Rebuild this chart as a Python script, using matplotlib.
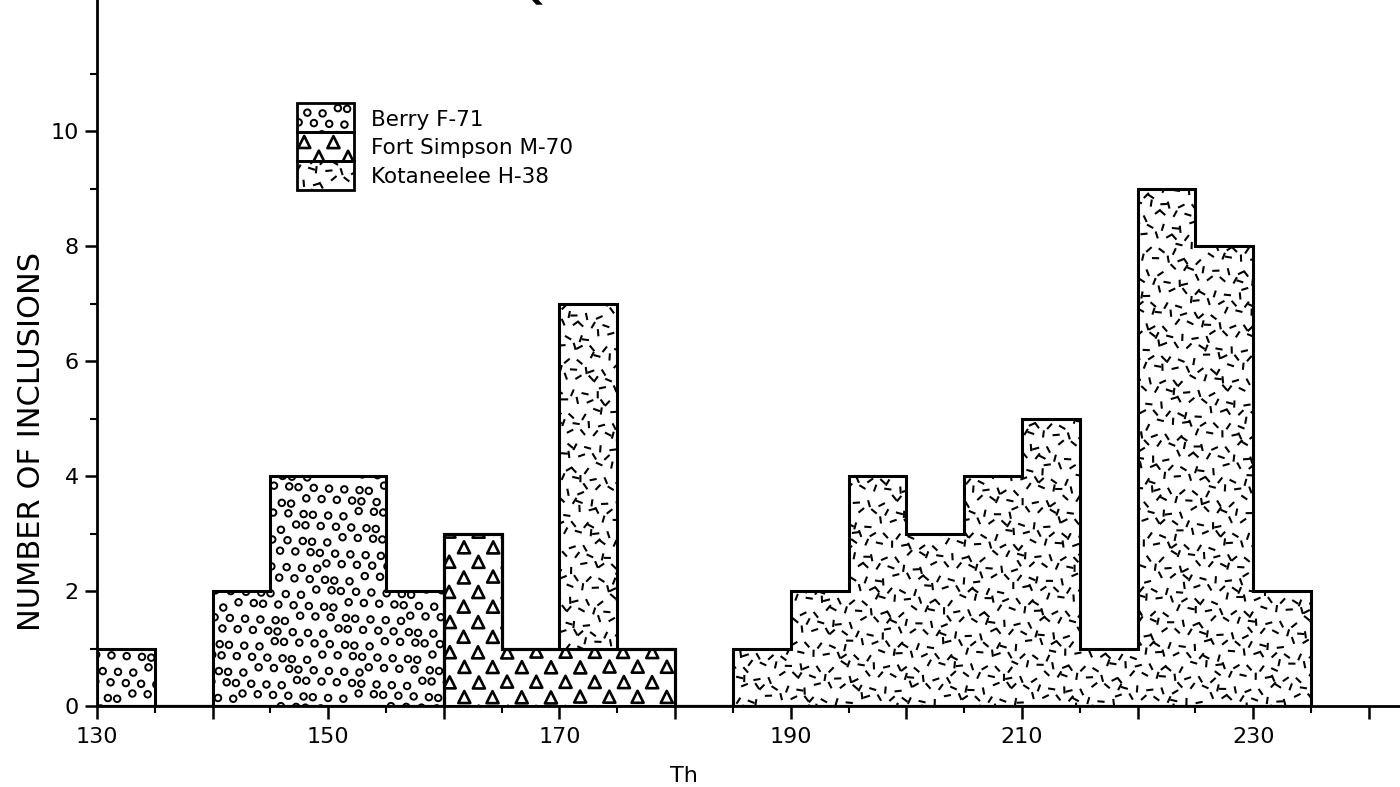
import numpy as np
import matplotlib
matplotlib.use('agg')
import matplotlib.pyplot as plt
from matplotlib.transforms import IdentityTransform
from matplotlib.collections import LineCollection
from matplotlib.patches import Rectangle

# bins of 5 degrees, 130..235
edges = np.arange(130, 240, 5)
berry = [1, 0, 2, 4, 4, 2, 0, 0, 0, 0, 0, 0, 0, 0, 0, 0, 0, 0, 0, 0, 0]
fort = [0, 0, 0, 0, 0, 0, 3, 1, 1, 1, 0, 0, 0, 0, 0, 0, 0, 0, 0, 0, 0]
kota = [0, 0, 0, 0, 0, 0, 0, 0, 6, 0, 0, 1, 2, 4, 3, 4, 5, 1, 9, 8, 2]
names = ['Berry F-71', 'Fort Simpson M-70', 'Kotaneelee H-38']
xticks_lab = [130, 150, 170, 190, 210, 230]

W, H = 1400, 787
fig = plt.figure(figsize=(W / 100, H / 100), dpi=100)
ax = fig.add_axes([97 / W, 81 / H, 1 - 97 / W, 706 / H])
ax.set_xlim(130, 242.7)
ax.set_ylim(0, 12.28)

ID = IdentityTransform()


def frac(a):
    return a - np.floor(a)


def texture(patch, kind, z=2):
    # fill a patch with a print-like texture, drawn in pixel space
    path = patch.get_path().transformed(patch.get_transform())
    ext = path.get_extents()
    if kind == 'circle':
        dx, dy, jit = 14, 13, 3.0
    elif kind == 'tri':
        dx, dy, jit = 29, 15, 0.5
    else:
        dx, dy, jit = 11, 11, 4.0
    j0, j1 = int(np.floor(ext.y0 / dy)) - 1, int(np.ceil(ext.y1 / dy)) + 1
    i0, i1 = int(np.floor(ext.x0 / dx)) - 1, int(np.ceil(ext.x1 / dx)) + 1
    jj, ii = np.meshgrid(np.arange(j0, j1 + 1), np.arange(i0, i1 + 1))
    jj, ii = jj.ravel(), ii.ravel()
    k = ii * 7919 + jj * 104729
    x = ii * dx + (jj % 2) * dx / 2 + (frac(k * 0.6180339) - 0.5) * 2 * jit
    y = jj * dy + (frac(k * 0.7548776) - 0.5) * 2 * jit
    keep = (x > ext.x0 - 8) & (x < ext.x1 + 8) & (y > ext.y0 - 8) & (y < ext.y1 + 8)
    x, y, k = x[keep], y[keep], k[keep]
    if kind == 'circle':
        art = ax.scatter(x, y, s=22, marker='o', facecolor='none', edgecolor='black',
                         linewidths=1.4, transform=ID, zorder=z)
    elif kind == 'tri':
        art = ax.scatter(x, y, s=75, marker='^', facecolor='none', edgecolor='black',
                         linewidths=1.9, transform=ID, zorder=z)
    else:
        ang = frac(k * 0.5698403) * np.pi
        L = 3.6
        segs = np.stack([np.column_stack([x - L * np.cos(ang), y - L * np.sin(ang)]),
                         np.column_stack([x + L * np.cos(ang), y + L * np.sin(ang)])], axis=1)
        art = LineCollection(segs, colors='black', linewidths=1.5, transform=ID, zorder=z)
        ax.add_collection(art)
    art.set_clip_path(patch)
    art.set_clip_on(True)


fort_a = np.array(fort)
series = [
    (np.array(berry), 0, 'circle'),
    (fort_a, 0, 'tri'),
    (fort_a + np.array(kota), fort_a, 'dash'),
]
for top, base, kind in series:
    face = ax.stairs(top, edges, baseline=base, fill=True, facecolor='white',
                     edgecolor='none', zorder=1)
    texture(face, kind)
    ax.stairs(top, edges, baseline=base, fill=True, facecolor='none',
              edgecolor='black', linewidth=2.2, zorder=3)

# legend boxes
for n, (name, kind) in enumerate(zip(names, ['circle', 'tri', 'dash'])):
    ytop = H - 103 - 29 * n
    r = Rectangle((297, ytop - 29), 57, 29, transform=ID, facecolor='white',
                  edgecolor='none', zorder=4)
    ax.add_patch(r)
    texture(r, kind, z=5)
    ax.add_patch(Rectangle((297, ytop - 29), 57, 29, transform=ID, facecolor='none',
                           edgecolor='black', linewidth=2, zorder=6))
    fig.text(371 / W, (H - 120 - 28.5 * n) / H, name, fontsize=15.5, va='center',
             ha='left', family='DejaVu Sans')

# axes styling
for s in ['top', 'right']:
    ax.spines[s].set_visible(False)
for s in ['left', 'bottom']:
    ax.spines[s].set_linewidth(2)
ax.set_xticks(np.arange(130, 245, 10))
ax.set_xticklabels([str(v) if v in xticks_lab else '' for v in range(130, 245, 10)])
ax.set_xticks(np.arange(135, 245, 10), minor=True)
ax.set_yticks(np.arange(0, 12, 2))
ax.set_yticks(np.arange(1, 12, 2), minor=True)
ax.tick_params(which='major', length=9, width=1.8, labelsize=16, pad=6)
ax.tick_params(which='minor', length=5, width=1.5)
ax.tick_params(axis='y', pad=4)

ax.set_xlabel('Th', fontsize=16)
ax.xaxis.set_label_coords((684 - 97) / 1303, -0.085)
ax.set_ylabel('NUMBER OF INCLUSIONS', fontsize=22)
ax.yaxis.set_label_coords(-0.039, 0.375)

# title, mostly cut off at the top of the scan
fig.text(620 / W, (H + 3) / H, 'QUARTZ', fontsize=40, ha='center', va='baseline')

fig.savefig('out.png', dpi=100)
